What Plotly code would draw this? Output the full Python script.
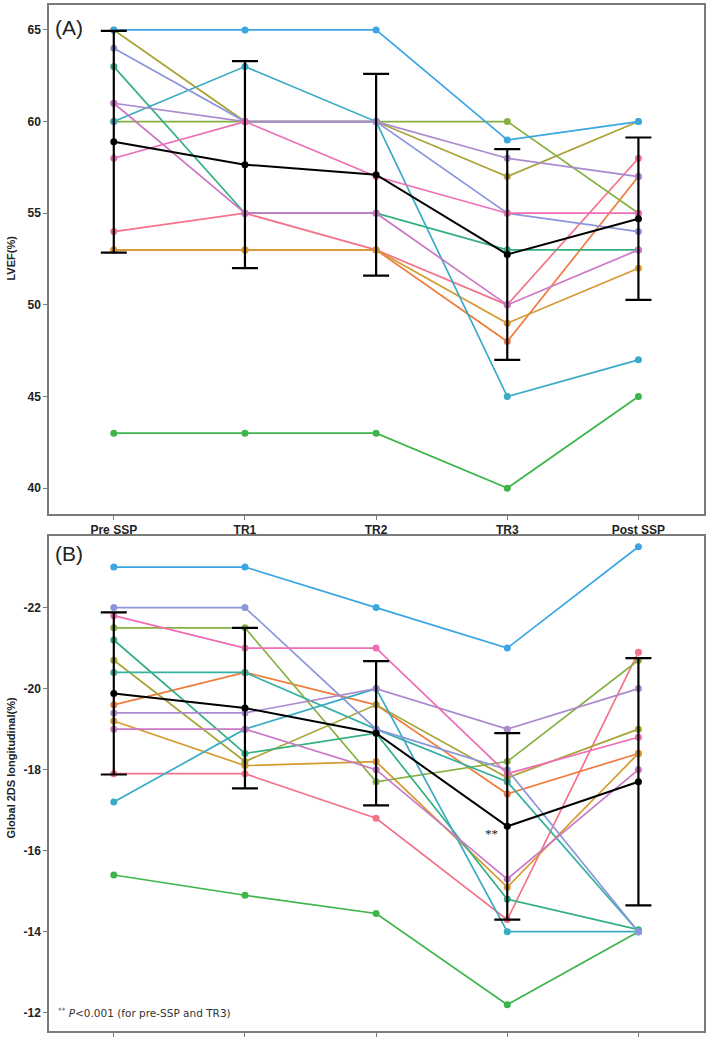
import plotly.graph_objects as go

categories = ["Pre SSP", "TR1", "TR2", "TR3", "Post SSP"]

# Individual subjects, panel A (LVEF %); None = subject not drawn in this panel
lvef_values = [
    [54, 55, 53, 50, 58],        # salmon
    [53, 53, 53, 48, 57],        # orange
    [53, 53, 53, 49, 52],        # gold
    [65, 60, 60, 57, 60],        # olive
    [60, 60, 60, 60, 55],        # yellow-green
    [43, 43, 43, 40, 45],        # green
    [63, 55, 55, 53, 53],        # teal-green
    None,                        # teal (not visible)
    [60, 63, 60, 45, 47],        # cyan
    [65, 65, 65, 59, 60],        # blue
    [64, 60, 60, 55, 54],        # periwinkle
    [61, 60, 60, 58, 57],        # lavender
    [61, 55, 55, 50, 53],        # magenta
    [58, 60, 57, 55, 55],        # pink
]
lvef_mean = [58.9, 57.65, 57.1, 52.75, 54.7]
lvef_sd = [6.05, 5.65, 5.5, 5.75, 4.43]

# Individual subjects, panel B (Global 2DS longitudinal %)
gls_values = [
    [-17.9, -17.9, -16.8, -14.3, -20.9],   # salmon
    [-19.6, -20.4, -19.6, -17.4, -18.4],   # orange
    [-19.2, -18.1, -18.2, -15.1, -18.4],   # gold
    [-20.7, -18.2, -19.6, -17.8, -19.0],   # olive
    [-21.5, -21.5, -17.7, -18.2, -20.7],   # yellow-green
    [-15.4, -14.9, -14.45, -12.2, -14.0],  # green
    [-21.2, -18.4, -18.9, -14.8, -14.05],  # teal-green
    [-20.4, -20.4, -19.0, -17.7, -14.0],   # teal
    [-17.2, -19.0, -20.0, -14.0, -14.0],   # cyan
    [-23.0, -23.0, -22.0, -21.0, -23.5],   # blue
    [-22.0, -22.0, -19.0, -18.0, -14.0],   # periwinkle
    [-19.4, -19.4, -20.0, -19.0, -20.0],   # lavender
    [-19.0, -19.0, -18.0, -15.3, -18.0],   # magenta
    [-21.8, -21.0, -21.0, -17.9, -18.8],   # pink
]
gls_mean = [-19.88, -19.52, -18.9, -16.6, -17.7]
gls_sd = [2.0, 1.98, 1.78, 2.3, 3.05]

lvef_ticks = [40, 45, 50, 55, 60, 65]
gls_ticks = [-22, -20, -18, -16, -14, -12]

subject_colors = [
    "#F4738A", "#F07B3C", "#D69A30", "#AAA336", "#86B042", "#3EB54A",
    "#33B07E", "#35B0A2", "#38ABC6", "#3BA6E4", "#8C96DC", "#AB8ACD",
    "#CA78C5", "#EE6DB4",
]

xpos = list(range(len(categories)))
fig = go.Figure()

def add_panel(values, mean, sd, xa, ya):
    for vals, col in zip(values, subject_colors):
        if vals is None:
            continue
        fig.add_trace(go.Scatter(
            x=xpos, y=vals, mode="lines+markers", xaxis=xa, yaxis=ya,
            line=dict(color=col, width=1.7),
            marker=dict(color=col, size=7),
            showlegend=False, hoverinfo="skip"))
    fig.add_trace(go.Scatter(
        x=xpos, y=mean, mode="lines+markers", xaxis=xa, yaxis=ya,
        line=dict(color="black", width=2),
        marker=dict(color="black", size=7),
        error_y=dict(type="data", array=sd, color="black", thickness=2.2, width=13),
        showlegend=False, hoverinfo="skip"))

add_panel(lvef_values, lvef_mean, lvef_sd, "x", "y")
add_panel(gls_values, gls_mean, gls_sd, "x2", "y2")

axis_col = "#7a7a7a"
tickfont = dict(family="Liberation Sans Narrow, Arial Narrow, Liberation Sans, sans-serif",
                size=12, color="#222", weight="bold")

common_x = dict(range=[-0.494, 4.5], tickvals=xpos, showgrid=False, zeroline=False,
                showline=True, linecolor=axis_col, linewidth=1.5, mirror=True,
                ticks="outside", ticklen=4, tickcolor=axis_col, tickwidth=1.2,
                tickfont=tickfont)
common_y = dict(showgrid=False, zeroline=False, showline=True, linecolor=axis_col,
                linewidth=1.5, mirror=True, ticks="outside", ticklen=4,
                tickcolor=axis_col, tickwidth=1.2, tickfont=tickfont)

fig.update_layout(
    width=709, height=1038,
    margin=dict(l=49, r=3, t=3, b=3),
    paper_bgcolor="white", plot_bgcolor="white",
    xaxis=dict(common_x, domain=[0, 1], anchor="y", ticktext=categories),
    yaxis=dict(common_y, domain=[0.5039, 1.0], anchor="x", range=[38.59, 66.36],
               tickvals=lvef_ticks, ticktext=[str(t) for t in lvef_ticks]),
    xaxis2=dict(common_x, domain=[0, 1], anchor="y2", showticklabels=False),
    yaxis2=dict(common_y, domain=[0, 0.4826], anchor="x2", range=[-11.55, -23.77],
                tickvals=gls_ticks, ticktext=[str(t) for t in gls_ticks]),
)

title_font = dict(family="Liberation Sans, Arial, sans-serif", size=11, color="#222", weight="bold")
fig.add_annotation(text="LVEF(%)", xref="paper", yref="paper", x=-0.058, y=0.7529,
                   textangle=-90, showarrow=False, font=title_font,
                   xanchor="center", yanchor="middle")
fig.add_annotation(text="Global 2DS longitudinal(%)", xref="paper", yref="paper",
                   x=-0.058, y=0.2568, textangle=-90, showarrow=False, font=title_font,
                   xanchor="center", yanchor="middle")

label_font = dict(family="Liberation Sans, Arial, sans-serif", size=21, color="#222")
fig.add_annotation(text="(A)", xref="paper", yref="paper", x=0.006, y=0.9777,
                   showarrow=False, font=label_font, xanchor="left", yanchor="middle")
fig.add_annotation(text="(B)", xref="paper", yref="paper", x=0.006, y=0.4651,
                   showarrow=False, font=label_font, xanchor="left", yanchor="middle")

fig.add_annotation(text="**", xref="x2", yref="y2", x=2.88, y=-16.42, showarrow=False,
                   font=dict(family="Liberation Serif, Times New Roman, serif", size=13, color="#222"),
                   xanchor="center", yanchor="middle")

fig.add_annotation(text="<sup>**</sup> <i>P</i>&lt;0.001 (for pre-SSP and TR3)",
                   xref="paper", yref="paper", x=0.0107, y=0.0184, showarrow=False,
                   font=dict(family="DejaVu Sans, sans-serif", size=10.5, color="#333"),
                   xanchor="left", yanchor="middle")

fig.write_html("out.html", config={"displayModeBar": False},
               post_script="document.body.style.margin='0';")
